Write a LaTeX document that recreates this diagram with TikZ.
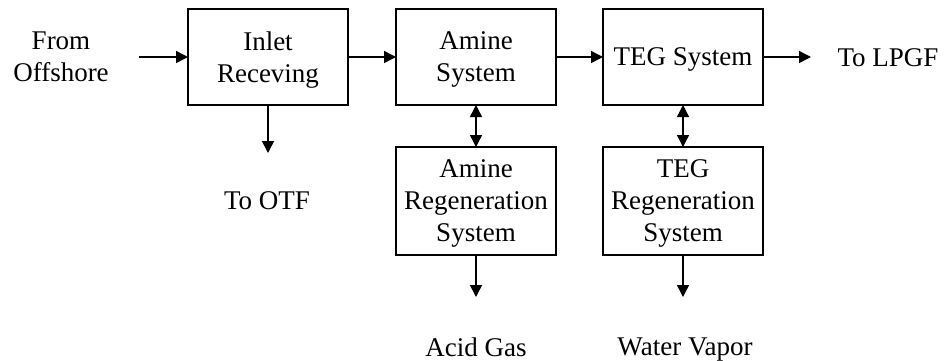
\documentclass[tikz,border=0pt]{standalone}
\usepackage{fontspec}
\setmainfont{Liberation Serif}
\usetikzlibrary{arrows.meta}
\begin{document}
\begin{tikzpicture}[x=1pt,y=-1pt,
  blk/.style={draw,line width=1.4pt,minimum width=160pt,minimum height=96pt,inner sep=0pt,outer sep=0pt,align=center,text depth=0pt,font=\fontsize{27}{32}\selectfont},
  tall/.style={blk,minimum height=108pt},
  lbl/.style={align=center,inner sep=0pt,text depth=0pt,font=\fontsize{27}{32}\selectfont},
  flow/.style={line width=1.4pt,-{Triangle[length=12pt,width=12pt]}},
  bflow/.style={line width=1.4pt,{Triangle[length=12pt,width=12pt]}-{Triangle[length=12pt,width=12pt]}}]
\useasboundingbox (0,0) rectangle (946,360);
\node[blk] (inlet) at (268,57) {Inlet\\Receving};
\node[blk] (amine) at (476,57) {Amine\\System};
\node[blk] (teg) at (683,57) {TEG System};
\node[tall] (aregen) at (476,201) {Amine\\Regeneration\\System};
\node[tall] (tregen) at (683,201) {TEG\\Regeneration\\System};
\node[lbl] (from) at (61,57) {From\\Offshore};
\node[lbl] (otf) at (267,201) {To OTF};
\node[lbl] (lpgf) at (888,58) {To LPGF};
\node[lbl] (acid) at (476,347) {Acid Gas};
\node[lbl] (water) at (685,347) {Water Vapor};
\coordinate (fromend) at (139,57);
\coordinate (otfend) at (268,153);
\coordinate (lpgfend) at (811,57);
\coordinate (acidend) at (476,297);
\coordinate (waterend) at (683,297);
\draw[flow] (fromend) -- (inlet.west);
\draw[flow] (inlet.east) -- (amine.west);
\draw[flow] (amine.east) -- (teg.west);
\draw[flow] (teg.east) -- (lpgfend);
\draw[flow] (inlet.south) -- (otfend);
\draw[bflow] (amine.south) -- (aregen.north);
\draw[bflow] (teg.south) -- (tregen.north);
\draw[flow] (aregen.south) -- (acidend);
\draw[flow] (tregen.south) -- (waterend);
\end{tikzpicture}
\end{document}
